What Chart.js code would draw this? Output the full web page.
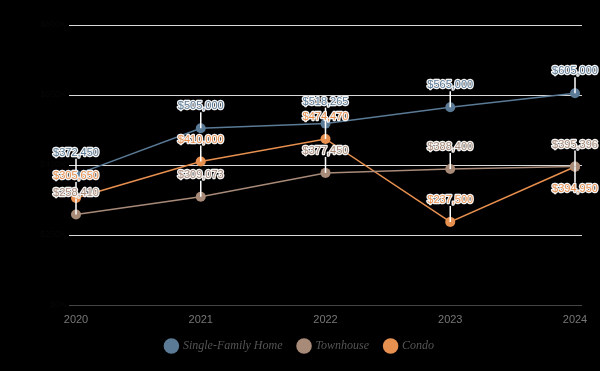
<!DOCTYPE html>
<html>
<head>
<meta charset="utf-8">
<script src="https://cdn.jsdelivr.net/npm/chart.js@4.4.1/dist/chart.umd.min.js"></script>
<style>
  html, body { margin: 0; padding: 0; background: #000; }
  #wrap { width: 600px; height: 371px; }
</style>
</head>
<body>
<div id="wrap"><canvas id="chart"></canvas></div>
<script>
const years = ["2020", "2021", "2022", "2023", "2024"];
const singleFamily = [372450, 505000, 518265, 565000, 605000];
const townhouse = [258410, 309073, 377450, 388400, 395396];
const condo = [305650, 410000, 474470, 237500, 394950];

const colors = { single: "#5a7a96", town: "#a88a78", condo: "#e8904f" };

const fmt = (v) => "$" + v.toLocaleString("en-US");
const gridColor = (c) => (c.tick && c.tick.value === 0 ? "#444" : "#d8d8d8");

// labels with white halo and a white leader line to the point
const pointLabels = {
  id: "pointLabels",
  afterDatasetsDraw(chart) {
    const ctx = chart.ctx;
    ctx.save();
    ctx.font = "11px Arial, 'Liberation Sans', sans-serif";
    ctx.textAlign = "center";
    ctx.textBaseline = "middle";
    const items = [];
    chart.data.datasets.forEach((ds, di) => {
      const meta = chart.getDatasetMeta(di);
      meta.data.forEach((pt, i) => {
        const below = ds.label === "Condo" && i === years.length - 1;
        const ly = below ? pt.y + 22 : pt.y - 22;
        items.push({ x: pt.x, y: pt.y, ly, below, text: fmt(ds.data[i]), color: ds.borderColor });
      });
    });
    items.forEach((it) => {
      ctx.strokeStyle = "#fff";
      ctx.lineWidth = 1.5;
      ctx.beginPath();
      ctx.moveTo(it.x, it.y);
      ctx.lineTo(it.x, it.below ? it.ly - 6 : it.ly + 6);
      ctx.stroke();
    });
    items.forEach((it) => {
      ctx.lineWidth = 2.5;
      ctx.lineJoin = "round";
      ctx.strokeStyle = "#f4f4f4";
      ctx.strokeText(it.text, it.x, it.ly);
      ctx.fillStyle = it.color;
      ctx.fillText(it.text, it.x, it.ly);
    });
    ctx.restore();
  }
};

const mkSet = (label, data, color) => ({
  label, data,
  borderColor: color,
  backgroundColor: color,
  borderWidth: 1.5,
  pointRadius: 5,
  pointBorderWidth: 0,
  tension: 0,
});

new Chart(document.getElementById("chart"), {
  type: "line",
  data: {
    labels: years,
    datasets: [
      mkSet("Single-Family Home", singleFamily, colors.single),
      mkSet("Townhouse", townhouse, colors.town),
      mkSet("Condo", condo, colors.condo),
    ],
  },
  options: {
    responsive: true,
    maintainAspectRatio: false,
    animation: false,
    layout: { padding: { top: 25, bottom: 9 } },
    plugins: {
      tooltip: { enabled: false },
      legend: {
        position: "bottom",
        labels: {
          usePointStyle: true,
          pointStyle: "circle",
          boxWidth: 11,
          boxHeight: 11,
          padding: 16,
          color: "#555",
          font: { family: "'Liberation Serif', serif", style: "italic", size: 12 },
        },
      },
    },
    scales: {
      x: {
        grid: { display: false },
        border: { color: "#444" },
        ticks: { color: "#777", font: { size: 11 }, padding: 0 },
        afterFit: (s) => { s.height = 19; },
      },
      y: {
        min: 0, max: 800000,
        ticks: { stepSize: 200000, color: "#070707", font: { size: 9 }, callback: (v) => "$" + v / 1000 + "K" },
        grid: { color: gridColor, tickLength: 7, drawOnChartArea: true },
        border: { display: false },
        afterFit: (s) => { s.width = 76; },
      },
      y2: {
        position: "right",
        min: 0, max: 800000,
        ticks: { stepSize: 200000, display: false },
        grid: { color: gridColor, tickLength: 7, drawOnChartArea: false },
        border: { display: false },
        afterFit: (s) => { s.width = 25; },
      },
    },
  },
  plugins: [pointLabels],
});
</script>
</body>
</html>
